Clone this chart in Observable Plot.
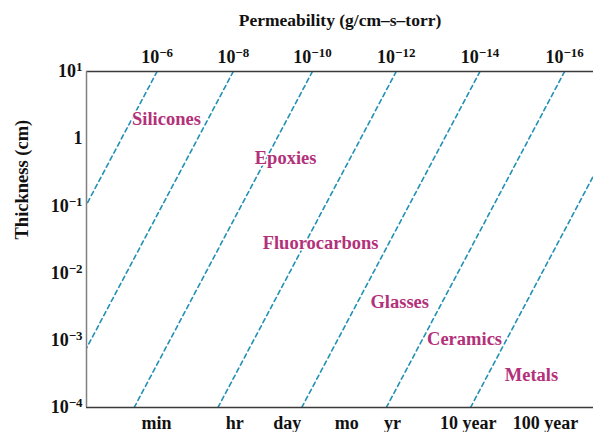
<!DOCTYPE html>
<html><head><meta charset="utf-8">
<script src="https://cdn.jsdelivr.net/npm/d3@7"></script>
<script src="https://cdn.jsdelivr.net/npm/@observablehq/plot@0.6"></script>
<style>body{margin:0;background:#fff}#chart{width:593px;height:432px}</style>
</head><body><div id="chart"></div>
<script>
// Permeability lines (g/cm–s–torr): exponent and log10(time) at which each line crosses 1 cm thickness
const permeabilityExponents = [-6, -8, -10, -12, -14, -16, -18];
const logTimeAt1cm = [0.90, 2.71, 4.59, 6.58, 8.57, 10.58, 12.58];
const thicknessSlope = 0.847; // decades of time per decade of thickness
const labelledLines = 6;

// Thickness axis (cm)
const thicknessTicks = [10, 1, 0.1, 0.01, 0.001, 0.0001];
const thicknessTickLabels = ["10^1", "1", "10^−1", "10^−2", "10^−3", "10^−4"];

// Time axis (log10 seconds, positions as read)
const timeTickLabels = ["min", "hr", "day", "mo", "yr", "10 year", "100 year"];
const timeTickPositions = [1.73, 3.59, 4.84, 6.25, 7.34, 9.14, 10.97];

// Material annotations
const materials = ["Silicones", "Epoxies", "Fluorocarbons", "Glasses", "Ceramics", "Metals"];
const materialLogTime = [1.97, 4.80, 5.63, 7.51, 9.05, 10.64];
const materialThickness = [1.93, 0.507, 0.0281, 0.00365, 0.00106, 0.000299];

const xDomain = [0.07, 12.113];
const yDomain = [1e-4, 10];
const FONT = "'Liberation Serif', 'Times New Roman', serif";

const lineData = [];
permeabilityExponents.forEach((e, i) => {
  for (const d of yDomain) {
    lineData.push({p: e, d, t: logTimeAt1cm[i] + thicknessSlope * Math.log10(d)});
  }
});
const topTicks = permeabilityExponents.slice(0, labelledLines).map((e, i) => ({
  t: logTimeAt1cm[i] + thicknessSlope * Math.log10(yDomain[1]),
  label: "10^" + (e < 0 ? "−" + (-e) : e)
}));
const yTicks = thicknessTicks.map((d, i) => ({d, label: thicknessTickLabels[i]}));
const xTicks = timeTickLabels.map((label, i) => ({t: timeTickPositions[i], label}));
const matData = materials.map((name, i) => ({name, t: materialLogTime[i], d: materialThickness[i]}));

const textBase = {fontFamily: FONT, fontWeight: "bold", fill: "#111", lineAnchor: "middle"};

const chart = Plot.plot({
  width: 593, height: 432,
  marginLeft: 86, marginRight: 0, marginTop: 71, marginBottom: 25,
  x: {type: "linear", domain: xDomain, axis: null},
  y: {type: "log", domain: yDomain, axis: null},
  marks: [
    Plot.line(lineData, {x: "t", y: "d", z: "p", stroke: "#2290b4", strokeWidth: 1.6, strokeDasharray: "4.5,3.5", clip: true}),
    Plot.ruleY(yDomain, {stroke: "#3a3a3a", strokeWidth: 1.3}),
    Plot.ruleX([xDomain[0]], {stroke: "#808080", strokeWidth: 1.5}),
    Plot.text(matData, {x: "t", y: "d", text: "name", fontFamily: FONT, fontWeight: "bold", fontSize: 18.5, fill: "#b3317a", stroke: "white", strokeWidth: 3, paintOrder: "stroke"}),
    Plot.text(topTicks, {x: "t", text: "label", frameAnchor: "top", dy: -14.4, fontSize: 18, ...textBase}),
    Plot.text(xTicks, {x: "t", text: "label", frameAnchor: "bottom", dy: 15.3, fontSize: 18, ...textBase}),
    Plot.text(yTicks, {y: "d", text: "label", frameAnchor: "left", dx: -4, textAnchor: "end", fontSize: 18, ...textBase}),
    Plot.text(["Permeability (g/cm–s–torr)"], {frameAnchor: "top", dy: -51, fontSize: 17.5, ...textBase}),
    Plot.text(["Thickness (cm)"], {frameAnchor: "left", rotate: -90, dx: -64, fontSize: 18.5, ...textBase})
  ]
});

// Render "10^n" labels with a raised exponent
chart.querySelectorAll("text").forEach(t => {
  const m = /^10\^(.+)$/.exec(t.textContent);
  if (m) {
    t.textContent = "10";
    const ts = document.createElementNS("http://www.w3.org/2000/svg", "tspan");
    ts.setAttribute("dy", "-0.45em");
    ts.setAttribute("font-size", "0.72em");
    ts.textContent = m[1];
    t.appendChild(ts);
  }
});
document.getElementById("chart").appendChild(chart);
</script>
</body></html>
